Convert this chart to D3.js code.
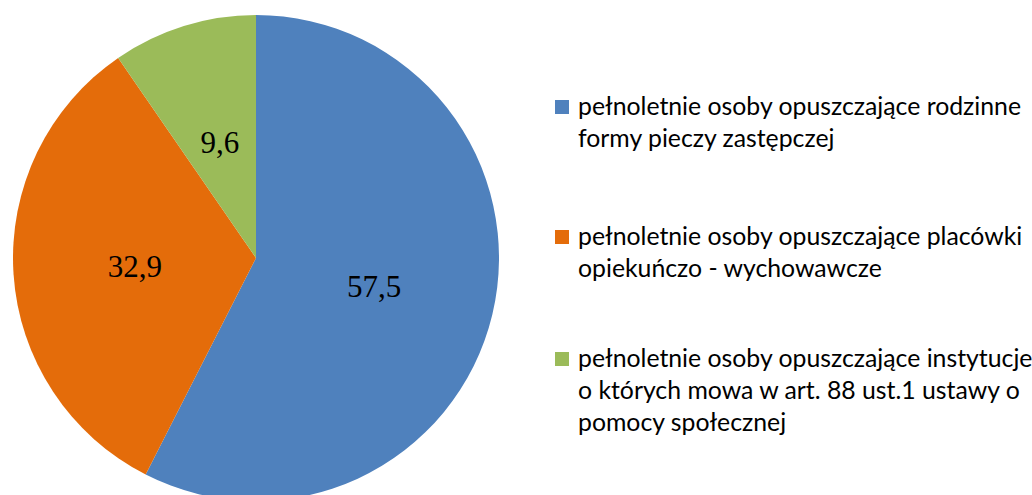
<!DOCTYPE html>
<html>
<head>
<meta charset="utf-8">
<script src="https://cdn.jsdelivr.net/npm/d3@7"></script>
<style>
  html, body { margin: 0; padding: 0; background: #fff; }
  svg { display: block; }
</style>
</head>
<body>
<svg id="chart" width="1032" height="495"></svg>
<script>
const categories = [
  "pełnoletnie osoby opuszczające rodzinne\nformy pieczy zastępczej",
  "pełnoletnie osoby opuszczające placówki\nopiekuńczo - wychowawcze",
  "pełnoletnie osoby opuszczające instytucje\no których mowa w art. 88 ust.1 ustawy o\npomocy społecznej"
];
const values = [57.5, 32.9, 9.6];
const colors = ["#4F81BD", "#E46C0A", "#9BBB59"];

const svg = d3.select("#chart");
const cx = 256, cy = 258, R = 243;

const pie = d3.pie().sort(null).value(d => d)(values);
const arc = d3.arc().innerRadius(0).outerRadius(R);

const g = svg.append("g").attr("transform", `translate(${cx},${cy})`);
g.selectAll("path").data(pie).join("path")
  .attr("d", arc)
  .attr("fill", (d, i) => colors[i]);

const fmt = v => d3.format(".1f")(v).replace(".", ",");
g.selectAll("text.lbl").data(pie).join("text")
  .attr("class", "lbl")
  .attr("transform", d => `translate(${arc.centroid(d)})`)
  .attr("text-anchor", "middle")
  .attr("dy", "0.35em")
  .style("font-family", "'Liberation Serif', 'DejaVu Serif', serif")
  .style("font-size", "31px")
  .style("fill", "#000")
  .text(d => fmt(d.data));

// Legend
const legendY = [115, 245, 367];
const lineH = 32;
const lg = svg.append("g");
categories.forEach((c, i) => {
  const item = lg.append("g");
  item.append("rect")
    .attr("x", 555).attr("y", legendY[i] - 15)
    .attr("width", 14).attr("height", 14)
    .attr("fill", colors[i]);
  const t = item.append("text")
    .attr("x", 578).attr("y", legendY[i])
    .style("font-family", "Lato, 'Open Sans', sans-serif")
    .style("font-size", "24.8px")
    .style("fill", "#000");
  c.split("\n").forEach((line, j) => {
    t.append("tspan").attr("x", 578).attr("y", legendY[i] + j * lineH).text(line);
  });
});
</script>
</body>
</html>
